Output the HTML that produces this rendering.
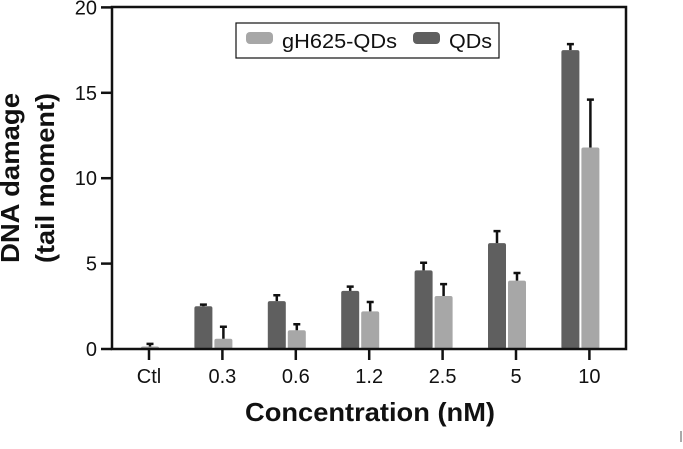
<!DOCTYPE html>
<html><head><meta charset="utf-8"><style>
body{margin:0;background:#fff;font-family:"Liberation Sans",Arial,sans-serif}
</style></head><body>
<svg width="683" height="444" xmlns="http://www.w3.org/2000/svg">
<g id="plot"></g>
</svg>
<script>
const categories=["Ctl","0.3","0.6","1.2","2.5","5","10"];
const qdsValues=[0,2.5,2.8,3.4,4.6,6.2,17.5];
const qdsErrors=[0,0.1,0.35,0.25,0.45,0.7,0.35];
const ghValues=[0.15,0.6,1.1,2.2,3.1,4.0,11.8];
const ghErrors=[0.15,0.7,0.35,0.55,0.7,0.45,2.8];
const yTicks=[0,5,10,15,20];
const NS="http://www.w3.org/2000/svg";
const g=document.getElementById('plot');
const y=v=>349-v*17.08;
const x=i=>149+i*73.4;
function el(t,a,txt){const e=document.createElementNS(NS,t);for(const k in a)e.setAttribute(k,a[k]);if(txt!==undefined)e.textContent=txt;g.appendChild(e);return e;}
function bars(vals,errs,off,color,name){
vals.forEach((v,i)=>{
 const bx=x(i)+off;
 if(v>0){const r=el('rect',{x:bx,y:y(v),width:18,height:349-y(v),fill:color,rx:2});
 
 }
 if(errs[i]>0){const cx=bx+9;
 const l=el('path',{d:`M${cx} ${y(v)}V${y(v+errs[i])}M${cx-3.5} ${y(v+errs[i])}H${cx+3.5}`,stroke:'#111','stroke-width':2.5,fill:'none'});
 
 }
});}
bars(qdsValues,qdsErrors,-28,'#5f5f5f','qds');
bars(ghValues,ghErrors,-8,'#a7a7a7','gh625');
const ax=el('path',{d:'M112 7V349H626V7Z',stroke:'#111','stroke-width':2.5,fill:'none'});


yTicks.forEach(t=>{
 el('line',{x1:101,x2:112,y1:y(t),y2:y(t),stroke:'#111','stroke-width':2.5});
 const tl=el('text',{x:97,y:y(t)+7,'text-anchor':'end','font-size':20,fill:'#111'},t);
 
 
});
categories.forEach((c,i)=>{
 el('line',{x1:x(i),x2:x(i),y1:349,y2:360,stroke:'#111','stroke-width':2.5});
 const tl=el('text',{x:x(i),y:383,'text-anchor':'middle','font-size':20,fill:'#111'},c);
 
 
});
const xt=el('text',{x:370,y:421,'text-anchor':'middle','font-size':26,'font-weight':'bold',fill:'#111',textLength:250,lengthAdjust:'spacingAndGlyphs'},'Concentration (nM)');


const yt=el('text',{transform:'translate(19,178) rotate(-90)','text-anchor':'middle','font-size':26,'font-weight':'bold',fill:'#111',textLength:170,lengthAdjust:'spacingAndGlyphs'},'DNA damage');


const yt2=el('text',{transform:'translate(54,178) rotate(-90)','text-anchor':'middle','font-size':26,'font-weight':'bold',fill:'#111',textLength:170,lengthAdjust:'spacingAndGlyphs'},'(tail moment)');


const lg=el('rect',{x:236,y:23,width:263,height:35,fill:'#fff',stroke:'#111','stroke-width':1.2});


el('rect',{x:246,y:32,width:27,height:12,fill:'#a7a7a7',rx:4});
const l1=el('text',{x:282,y:48,'font-size':20,fill:'#111',textLength:115,lengthAdjust:'spacingAndGlyphs'},'gH625-QDs');


el('rect',{x:413,y:32,width:27,height:12,fill:'#5f5f5f',rx:4});
const l2=el('text',{x:449,y:48,'font-size':20,fill:'#111',textLength:43,lengthAdjust:'spacingAndGlyphs'},'QDs');


el('line',{x1:681,x2:681,y1:431,y2:442,stroke:'#555','stroke-width':1});
</script>
</body></html>
